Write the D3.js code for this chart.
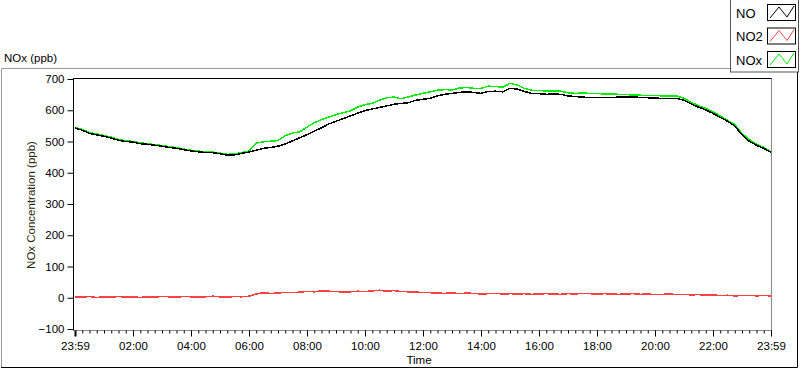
<!DOCTYPE html>
<html>
<head>
<meta charset="utf-8">
<script src="https://cdn.jsdelivr.net/npm/d3@7"></script>
<style>
  body { margin: 0; background: #fff; }
  text { font-family: "Liberation Sans", Arial, sans-serif; }
</style>
</head>
<body>
<svg id="chart"></svg>
<script>
// readings every 15 minutes, 23:59 -> 23:59
const noValues = [
  543, 536, 526, 521, 517, 511, 504, 500, 498, 493, 491, 488,
  485, 481, 478, 474, 470, 467, 465, 464, 461, 456, 457, 462,
  466, 472, 478, 481, 485, 492, 502, 512, 522, 533, 544, 556,
  565, 573, 582, 591, 599, 604, 609, 614, 619, 622, 624, 632,
  635, 638, 646, 651, 654, 657, 659, 657, 654, 660, 661, 659,
  670, 668, 660, 654, 653, 651, 652, 651, 646, 644, 642, 641,
  641, 640, 641, 642, 642, 643, 641, 640, 639, 638, 637, 638,
  632, 620, 610, 601, 590, 577, 565, 550, 521, 501, 488, 478,
  465
];
const no2Values = [
  3, 2, 4, 1, 3, 2, 4, 2, 3, 1, 3, 2,
  4, 3, 2, 4, 3, 2, 3, 5, 3, 2, 4, 3,
  5, 12, 16, 14, 15, 17, 16, 18, 20, 19, 22, 21,
  20, 18, 19, 21, 20, 22, 24, 21, 23, 20, 19, 18,
  17, 16, 15, 14, 16, 13, 15, 14, 12, 13, 14, 12,
  13, 12, 13, 11, 12, 13, 12, 11, 13, 12, 14, 13,
  12, 13, 12, 11, 12, 13, 11, 12, 10, 11, 12, 10,
  11, 9, 10, 8, 9, 7, 8, 6, 7, 8, 6, 7,
  6
];
const noxValues = [
  545, 539, 528, 524, 519, 514, 506, 503, 500, 496, 493, 490,
  487, 484, 480, 476, 472, 469, 468, 466, 463, 459, 460, 465,
  469, 495, 499, 501, 503, 519, 527, 531, 546, 560, 570, 578,
  586, 592, 598, 610, 618, 622, 632, 640, 642, 637, 643, 649,
  654, 659, 664, 666, 665, 671, 673, 670, 670, 677, 676, 674,
  686, 681, 670, 664, 663, 662, 662, 661, 656, 654, 655, 654,
  654, 652, 652, 651, 650, 649, 648, 648, 647, 646, 645, 646,
  638, 625, 615, 606, 595, 582, 568, 555, 526, 506, 492, 481,
  467
];

const seriesNames = ["NO", "NO2", "NOx"];
const seriesColors = ["#000000", "#ff4040", "#00ee00"];

const tickHours = [0, 2, 4, 6, 8, 10, 12, 14, 16, 18, 20, 22, 24];
const timeLabels = ["23:59", "02:00", "04:00", "06:00", "08:00", "10:00", "12:00",
  "14:00", "16:00", "18:00", "20:00", "22:00", "23:59"];
const yTicks = [-100, 0, 100, 200, 300, 400, 500, 600, 700];

const width = 800;
const height = 369;
const plot = { left: 73.5, right: 771.5, top: 78.5, bottom: 330.5 };

const svg = d3.select("#chart").attr("width", width).attr("height", height);

const x = d3.scaleLinear().domain([0, 24]).range([75, 771]);
const y = d3.scaleLinear().domain([-100, 700]).range([329, 79]);

// outer panel frame
svg.append("path")
  .attr("d", `M1.5,${height - 1} V68.5 H731`)
  .attr("fill", "none").attr("stroke", "#999");
svg.append("path")
  .attr("d", `M1,367.5 H797.5 V72`)
  .attr("fill", "none").attr("stroke", "#000");

svg.append("text")
  .attr("x", 4).attr("y", 62)
  .attr("font-size", 11.5)
  .text("NOx (ppb)");

// plot border
svg.append("path")
  .attr("d", `M${plot.left},${plot.top} H${plot.right} V${plot.bottom} H${plot.left}`)
  .attr("fill", "none").attr("stroke", "#888");
svg.append("path")
  .attr("d", `M${plot.left},${plot.bottom} V${plot.top} H${plot.right}`)
  .attr("fill", "none").attr("stroke", "#000");

// y axis
const yAxis = svg.append("g")
  .attr("transform", `translate(${plot.left},0)`)
  .call(d3.axisLeft(y).tickValues(yTicks).tickSize(6).tickSizeOuter(0).tickPadding(3));
yAxis.select(".domain").remove();
yAxis.selectAll("text").attr("font-size", 11.5).attr("fill", "#000")
  .style("font-family", "'Liberation Sans', Arial, sans-serif");

// x axis minor ticks
const minor = svg.append("g")
  .attr("transform", `translate(0,${plot.bottom})`)
  .call(d3.axisBottom(x).tickValues(d3.range(0, 24.01, 0.25)).tickSize(3).tickFormat(""));
minor.select(".domain").remove();

// x axis major ticks
const xAxis = svg.append("g")
  .attr("transform", `translate(0,${plot.bottom})`)
  .call(d3.axisBottom(x).tickValues(tickHours).tickSize(6).tickSizeOuter(0)
    .tickPadding(5).tickFormat((d, i) => timeLabels[i]));
xAxis.select(".domain").remove();
xAxis.selectAll("text").attr("font-size", 11.5).attr("fill", "#000")
  .style("font-family", "'Liberation Sans', Arial, sans-serif");
xAxis.select(".tick line").attr("stroke-width", 2);

svg.append("text")
  .attr("x", 419).attr("y", 364)
  .attr("text-anchor", "middle")
  .attr("font-size", 11.5)
  .text("Time");

svg.append("text")
  .attr("transform", "translate(35,205) rotate(-90)")
  .attr("text-anchor", "middle")
  .attr("font-size", 11.5)
  .attr("fill", "#2a2a10")
  .text("NOx Concentration (ppb)");

// lines
const line = d3.line()
  .x((d, i) => x(i * 0.25))
  .y((d) => y(d));

const drawOrder = [
  { values: no2Values, color: seriesColors[1] },
  { values: noxValues, color: seriesColors[2] },
  { values: noValues, color: seriesColors[0] }
];
drawOrder.forEach((s) => {
  svg.append("path")
    .datum(s.values)
    .attr("fill", "none")
    .attr("stroke", s.color)
    .attr("stroke-width", 1.5)
    .attr("shape-rendering", "crispEdges")
    .attr("d", line);
});

// legend
const legend = svg.append("g");
legend.append("rect")
  .attr("x", 730.5).attr("y", -1).attr("width", 68).attr("height", 73)
  .attr("fill", "#fff").attr("stroke", "#555");

seriesNames.forEach((name, i) => {
  const top = 4 + i * 23.5;
  legend.append("text")
    .attr("x", 736).attr("y", top + 13.5)
    .attr("font-size", 13)
    .text(name);
  legend.append("rect")
    .attr("x", 767.5).attr("y", top + 0.5).attr("width", 28).attr("height", 16)
    .attr("fill", "#fff").attr("stroke", "#000");
  legend.append("path")
    .attr("d", d3.line()([
      [770, top + 14], [779, top + 3], [787, top + 13], [794, top + 2]
    ]))
    .attr("fill", "none")
    .attr("stroke", seriesColors[i])
    .attr("stroke-width", 1);
});
</script>
</body>
</html>
